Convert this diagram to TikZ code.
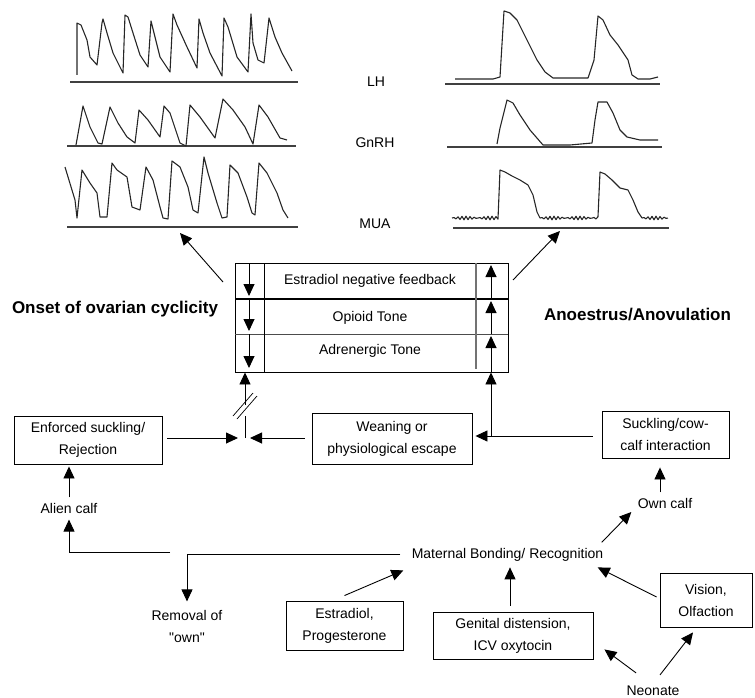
\documentclass[tikz,border=0pt]{standalone}
\usepackage{fontspec}
\setmainfont{Liberation Sans}
\usetikzlibrary{arrows.meta}

\begin{document}
\begin{tikzpicture}[x=1pt,y=-1pt,font=\fontsize{14}{22}\selectfont,line width=0.9pt,
  box/.style={draw,align=center,inner sep=0pt},
  lbl/.style={inner sep=0pt,anchor=base},
  head/.style={inner sep=0pt,anchor=base,font=\fontsize{17}{20}\selectfont\bfseries},
  arr/.style={-{Triangle[length=12pt,width=11pt]}},
  trace/.style={black!85,line width=1.1pt,line join=round},
  axis/.style={black!75,line width=1.3pt}]
\useasboundingbox (0,0) rectangle (755,698);

% traces, onset side
\draw[axis] (70,82) -- (298,82);
\draw[axis] (67,146) -- (296,146);
\draw[axis] (67,227) -- (298,227);
\draw[trace] plot coordinates {(77,75) (77,23) (81,25) (87,40) (90,57) (97,65) (102,23) (103,19)
  (107,33) (113,53) (123,73) (125,15) (128,17) (133,33) (140,55) (148,67) (151,21) (155,37)
  (160,57) (170,72) (173,14) (177,25) (187,47) (197,68) (199,19) (203,33) (210,53) (222,76)
  (224,18) (228,27) (237,57) (248,72) (251,14) (253,43) (258,60) (264,63) (269,18) (275,37)
  (282,53) (292,71)};
\draw[trace] plot coordinates {(76,145) (83,106) (90,127) (98,143) (102,144) (110,107) (118,123)
  (127,137) (135,143) (139,110) (148,120) (160,137) (164,106) (170,113) (180,143) (186,146)
  (190,105) (200,117) (215,138) (223,99) (233,110) (245,127) (253,144) (259,105) (268,117)
  (280,138) (287,140)};
\draw[trace] plot coordinates {(65,167) (75,200) (77,218) (82,170) (90,183) (97,193) (100,217)
  (107,217) (112,163) (117,170) (127,177) (132,207) (140,210) (146,167) (153,180) (160,207)
  (163,218) (168,219) (172,161) (180,167) (188,187) (193,210) (198,213) (204,157) (208,173)
  (217,203) (222,218) (227,217) (230,165) (238,173) (247,197) (252,213) (255,215) (259,163)
  (267,173) (277,193) (283,210) (288,218)};

% traces, anoestrus side
\draw[axis] (445,84) -- (660,84);
\draw[axis] (447,147) -- (662,147);
\draw[axis] (453,228) -- (669,228);
\draw[trace] plot coordinates {(455,79) (493,79) (500,77) (504,11) (510,13) (517,20) (527,40)
  (537,60) (545,72) (553,78) (588,78) (594,60) (598,16) (603,20) (610,35) (618,45) (628,60)
  (632,75) (638,79) (650,79) (658,77)};
\draw[trace] plot coordinates {(497,144) (500,128) (507,100) (513,103) (520,115) (530,130)
  (543,145) (570,145) (592,143) (595,120) (598,102) (607,102) (613,113) (620,130) (627,137)
  (640,140) (658,140)};
\draw[trace] plot[domain=0:46,samples=24] ({452+\x},{218+1.8*sin(\x*97)}) -- (500,170)
  -- (505,172) -- (512,176) -- (520,180) -- (528,185) -- (533,195) -- (537,212) -- (540,218)
  -- plot[domain=0:58,samples=30] ({540+\x},{218+1.8*sin(\x*97)}) -- (600,172) -- (605,174)
  -- (612,180) -- (620,188) -- (628,190) -- (633,200) -- (638,212) -- (642,218)
  -- plot[domain=0:26,samples=14] ({642+\x},{218+1.8*sin(\x*97)});

\node[lbl] (lh) at (376,87) {LH};
\node[lbl] (gnrh) at (375,147) {GnRH};
\node[lbl] (mua) at (375,228) {MUA};

\node[head] (onset) at (115,313) {Onset of ovarian cyclicity};
\node[head] (anoe) at (637.5,320) {Anoestrus/Anovulation};

% central box
\node[box,minimum width=273pt,minimum height=109pt] (cbox) at (371.5,317.5) {};
\draw[line width=1.8pt] (235,299) -- (508,299);
\draw[black!70] (235,334) -- (508,334);
\draw (264,263) -- (264,372);
\draw[black!55,line width=1.4pt] (476,263) -- (476,369);
\node[lbl] (fb) at (370,284) {Estradiol negative feedback};
\node[lbl] (op) at (370,321) {Opioid Tone};
\node[lbl] (ad) at (370,354) {Adrenergic Tone};
\foreach \a/\b in {263/296,299/331,334/368}
  \draw[arr] (249,\a) -- (249,\b);
\foreach \a/\b in {299/265,334/301,372/336}
  \draw[arr] (491,\a) -- (491,\b);

\coordinate (lo) at (223,282);
\coordinate (lg) at (180,233);
\coordinate (ro) at (513,280);
\coordinate (rg) at (560,231);
\draw[arr] (lo) -- (lg);
\draw[arr] (ro) -- (rg);

% boxes
\node[box,minimum width=148pt,minimum height=48pt] (enf) at (88,440) {Enforced suckling/\\Rejection};
\node[box,minimum width=160pt,minimum height=51pt] (wean) at (392,438.5) {Weaning or\\physiological escape};
\node[box,minimum width=127pt,minimum height=47pt] (suck) at (665.5,434.5) {Suckling/cow-\\calf interaction};
\node[box,minimum width=117pt,minimum height=49pt] (est) at (344.5,625.5) {Estradiol,\\Progesterone};
\node[box,minimum width=160pt,minimum height=47pt] (gen) at (513,635.5) {Genital distension,\\ICV oxytocin};
\node[box,minimum width=92pt,minimum height=54pt] (vis) at (706,600) {Vision,\\Olfaction};

\node[lbl] (alien) at (69,513) {Alien calf};
\node[lbl] (own) at (665,508) {Own calf};
\node[lbl] (mat) at (507.5,558) {Maternal Bonding/ Recognition};
\node[align=center,inner sep=0pt] (rem) at (187,626) {Removal of\\\textquotedbl own\textquotedbl};
\node[lbl] (neo) at (653,695) {Neonate};

% left junction
\coordinate (jl) at (245,438);
\coordinate (b1) at (245,416);
\coordinate (b2) at (245,405);
\draw[arr,shorten <=5pt,shorten >=7pt] (enf.east |- jl) -- (jl);
\draw[arr,shorten <=7pt,shorten >=5pt] (wean.west |- jl) -- (jl);
\draw (jl) -- (b1);
\draw[arr] (b2) -- (b2 |- cbox.south);
\draw[line width=0.7pt] (233,416) -- (253,393);
\draw[line width=0.7pt] (237,419) -- (257,396);

% right junction
\coordinate (jr) at (491,436);
\draw[arr,shorten <=9pt,shorten >=3pt] (suck.west |- jr) -- (wean.east |- jr);
\draw[arr] (jr) -- (jr |- cbox.south);
\draw[arr,shorten <=5pt,shorten >=9pt] ([xshift=-5pt]own.north) -- ([xshift=-5pt]own.north |- suck.south);

% calf lines
\coordinate (al) at (170,552);
\draw[arr,shorten <=5pt,shorten >=2pt] (alien.north) -- (alien.north |- enf.south);
\draw[arr,shorten >=6pt] (al) -| (alien.south);
\draw[arr,shorten >=8pt] ([xshift=-11pt]mat.west) -| (rem.north);

% into bonding
\draw[arr] ([yshift=5pt]est.north) -- ([xshift=-8pt,yshift=-16pt]mat.west);
\draw[arr,shorten <=6pt,shorten >=6pt] ([xshift=-3pt]gen.north) -- ([xshift=-3pt]gen.north |- mat.south);
\draw[arr] ([xshift=-3pt,yshift=3pt]vis.west) -- ([xshift=-6pt,yshift=-13pt]mat.east);
\draw[arr] ([xshift=-2pt,yshift=12pt]mat.east) -- ([xshift=-6pt,yshift=-9pt]own.west);
\draw[arr] ([xshift=10pt,yshift=12pt]neo.north west) -- ([xshift=11pt,yshift=10pt]gen.south east);
\draw[arr] ([xshift=7pt,yshift=10pt]neo.north) -- ([xshift=-13pt,yshift=-5pt]vis.south);

\end{tikzpicture}
\end{document}
